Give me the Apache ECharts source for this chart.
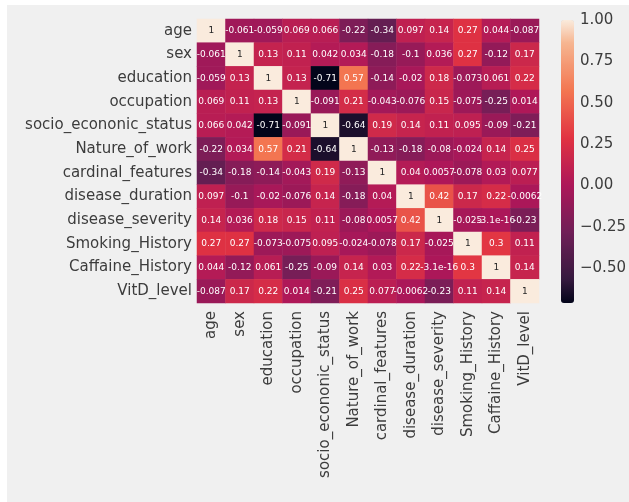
<!DOCTYPE html>
<html>
<head>
<meta charset="utf-8">
<script src="https://cdn.jsdelivr.net/npm/echarts@6/dist/echarts.min.js"></script>
<style>
  html, body { margin: 0; padding: 0; background: #ffffff; }
  #chart { position: absolute; left: 7px; top: 5px; width: 622px; height: 497px; background: #f0f0f0; }
</style>
</head>
<body>
<div id="chart"></div>
<script>
// ---- data ----
const categories = ['age', 'sex', 'education', 'occupation', 'socio_econonic_status', 'Nature_of_work',
  'cardinal_features', 'disease_duration', 'disease_severity', 'Smoking_History', 'Caffaine_History', 'VitD_level'];

const rowAge        = [1, -0.061, -0.059, 0.069, 0.066, -0.22, -0.34, 0.097, 0.14, 0.27, 0.044, -0.087];
const rowSex        = [-0.061, 1, 0.13, 0.11, 0.042, 0.034, -0.18, -0.1, 0.036, 0.27, -0.12, 0.17];
const rowEducation  = [-0.059, 0.13, 1, 0.13, -0.71, 0.57, -0.14, -0.02, 0.18, -0.073, 0.061, 0.22];
const rowOccupation = [0.069, 0.11, 0.13, 1, -0.091, 0.21, -0.043, -0.076, 0.15, -0.075, -0.25, 0.014];
const rowSocio      = [0.066, 0.042, -0.71, -0.091, 1, -0.64, 0.19, 0.14, 0.11, 0.095, -0.09, -0.21];
const rowNature     = [-0.22, 0.034, 0.57, 0.21, -0.64, 1, -0.13, -0.18, -0.08, -0.024, 0.14, 0.25];
const rowCardinal   = [-0.34, -0.18, -0.14, -0.043, 0.19, -0.13, 1, 0.04, 0.0057, -0.078, 0.03, 0.077];
const rowDuration   = [0.097, -0.1, -0.02, -0.076, 0.14, -0.18, 0.04, 1, 0.42, 0.17, 0.22, -0.0062];
const rowSeverity   = [0.14, 0.036, 0.18, 0.15, 0.11, -0.08, 0.0057, 0.42, 1, -0.025, -3.1e-16, -0.23];
const rowSmoking    = [0.27, 0.27, -0.073, -0.075, 0.095, -0.024, -0.078, 0.17, -0.025, 1, 0.3, 0.11];
const rowCaffaine   = [0.044, -0.12, 0.061, -0.25, -0.09, 0.14, 0.03, 0.22, -3.1e-16, 0.3, 1, 0.14];
const rowVitD       = [-0.087, 0.17, 0.22, 0.014, -0.21, 0.25, 0.077, -0.0062, -0.23, 0.11, 0.14, 1];

const corrRows = [rowAge, rowSex, rowEducation, rowOccupation, rowSocio, rowNature,
  rowCardinal, rowDuration, rowSeverity, rowSmoking, rowCaffaine, rowVitD];

const colorMin = -0.71;
const colorMax = 1;
const colorbarTicks = [-0.5, -0.25, 0, 0.25, 0.5, 0.75, 1];

// ---- rocket colormap (style) ----
const rocketStops = [
  [0.0, '#03051a'], [0.083, '#35193e'], [0.25, '#701f57'], [0.417, '#ad1759'],
  [0.583, '#e13342'], [0.75, '#f37651'], [0.917, '#f6b48f'], [1.0, '#faebdd']
];
function hex2rgb(h) { return [1, 3, 5].map(i => parseInt(h.substr(i, 2), 16)); }
function rocketAt(t) {
  for (let i = 1; i < rocketStops.length; i++) {
    if (t <= rocketStops[i][0]) {
      const [t0, c0] = rocketStops[i - 1], [t1, c1] = rocketStops[i];
      const f = (t - t0) / (t1 - t0);
      const a = hex2rgb(c0), b = hex2rgb(c1);
      return 'rgb(' + a.map((v, k) => Math.round(v + (b[k] - v) * f)).join(',') + ')';
    }
  }
  return rocketStops[rocketStops.length - 1][1];
}
const rocket = [];
for (let i = 0; i <= 60; i++) rocket.push(rocketAt(i / 60));

function fmtG2(v) { return String(parseFloat(v.toPrecision(2))); }

const heatData = [];
corrRows.forEach((row, r) => row.forEach((v, c) => {
  heatData.push({
    value: [c, r, v],
    label: { color: v > 0.8 ? '#262626' : '#ffffff' }
  });
}));

const FONT = 'DejaVu Sans';
const chart = echarts.init(document.getElementById('chart'));
chart.setOption({
  backgroundColor: '#f0f0f0',
  animation: false,
  grid: [
    { left: 190, top: 14, width: 342, height: 284 },
    { left: 554, top: 15, width: 13, height: 283 }
  ],
  xAxis: [
    {
      type: 'category', data: categories, gridIndex: 0,
      axisLine: { show: false }, axisTick: { show: false }, splitLine: { show: false },
      axisLabel: { rotate: 90, margin: 8, fontFamily: FONT, fontSize: 15, color: '#3c3c3c', interval: 0 }
    },
    { type: 'value', gridIndex: 1, show: false, min: 0, max: 1 }
  ],
  yAxis: [
    {
      type: 'category', data: categories, gridIndex: 0, inverse: true,
      axisLine: { show: false }, axisTick: { show: false }, splitLine: { show: false },
      axisLabel: { margin: 5, fontFamily: FONT, fontSize: 15, color: '#3c3c3c', interval: 0, padding: [4, 0, 0, 0] }
    },
    {
      type: 'value', gridIndex: 1, min: colorMin, max: colorMax, position: 'right',
      axisLine: { show: false }, axisTick: { show: false }, splitLine: { show: false },
      axisLabel: {
        customValues: colorbarTicks, margin: 6, fontFamily: FONT, fontSize: 15, color: '#3c3c3c',
        padding: [5, 0, 0, 0],
        formatter: v => v.toFixed(2).replace('-', '\u2212')
      }
    }
  ],
  visualMap: {
    type: 'continuous', min: colorMin, max: colorMax, calculable: false,
    seriesIndex: 0, orient: 'vertical', left: 554, top: 15,
    itemWidth: 13, itemHeight: 283, padding: 0, text: null, showLabel: false,
    inRange: { color: rocket }
  },
  series: [{
    type: 'heatmap', xAxisIndex: 0, yAxisIndex: 0, data: heatData,
    label: {
      show: true, fontFamily: FONT, fontSize: 9,
      formatter: p => fmtG2(p.value[2])
    },
    itemStyle: { borderWidth: 0 },
    emphasis: { disabled: true }
  }]
});
</script>
</body>
</html>
